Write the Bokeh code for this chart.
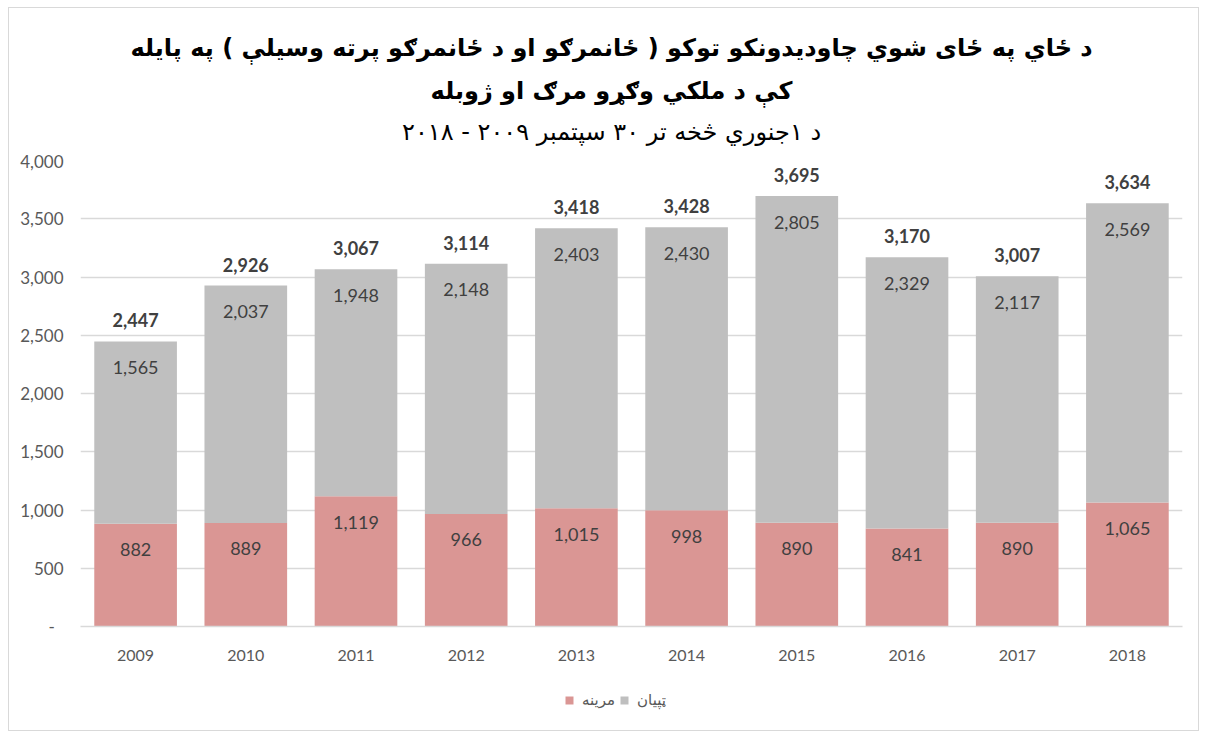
from bokeh.plotting import figure
from bokeh.layouts import column
from bokeh.models import (ColumnDataSource, Label, Legend, LegendItem, FixedTicker,
                          CustomJSTickFormatter, Range1d)
from bokeh.core.properties import value
from bokeh.embed import file_html
from bokeh.resources import INLINE

years = ["2009", "2010", "2011", "2012", "2013", "2014", "2015", "2016", "2017", "2018"]
deaths = [882, 889, 1119, 966, 1015, 998, 890, 841, 890, 1065]
injured = [1565, 2037, 1948, 2148, 2403, 2430, 2805, 2329, 2117, 2569]
y_ticks = [0, 500, 1000, 1500, 2000, 2500, 3000, 3500, 4000]

title_1 = "د ځاي په ځای شوي چاودیدونکو توکو ( ځانمرګو او د ځانمرګو پرته وسیلې ) په پایله"
title_2 = "کې د ملکي وګړو مرګ او ژوبله"
title_3 = "د ۱جنوري څخه تر ۳۰ سپتمبر ۲۰۰۹ - ۲۰۱۸"
legend_deaths = "مرینه"
legend_injured = "ټپیان"

RED = "#DA9694"
GRAY = "#BFBFBF"
NUM_FONT = "Lato"
AR_FONT = "DejaVu Sans"

totals = [d + i for d, i in zip(deaths, injured)]
source = ColumnDataSource(dict(
    year=years,
    deaths=deaths,
    injured=injured,
    total=totals,
    deaths_lbl=[f"{v:,}" for v in deaths],
    injured_lbl=[f"{v:,}" for v in injured],
    total_lbl=[f"{v:,}" for v in totals],
))

W = 1189
HEAD_H = 142

# ---- header strip with the three title lines
head = figure(width=W, height=HEAD_H, x_range=Range1d(0, W), y_range=Range1d(0, HEAD_H),
              x_axis_type=None, y_axis_type=None, output_backend="svg",
              toolbar_location=None, min_border=0)
head.outline_line_color = None
head.grid.visible = False
for txt, ypos, style in [(title_1, 103, "bold"), (title_2, 60, "bold"), (title_3, 19, "normal")]:
    head.add_layout(Label(x=573, y=ypos, text=txt, text_align="center",
                          text_baseline="middle", text_font=AR_FONT,
                          text_font_size="24px", text_font_style=style,
                          text_color="#000000"))

# ---- main chart
p = figure(x_range=years, y_range=(0, 4000), width=W, height=526,
           output_backend="svg", toolbar_location=None,
           min_border_left=71, min_border_right=16, min_border_bottom=50,
           min_border_top=10)
p.outline_line_color = None

renderers = p.vbar_stack(["deaths", "injured"], x="year", width=0.75, source=source,
                         fill_color=[RED, GRAY], line_color=None)

label_common = dict(source=source, text_align="center", text_baseline="middle",
                    text_font=value(NUM_FONT))
p.text(x="year", y="deaths", text="deaths_lbl", y_offset=26, text_font_size="18px",
       text_color="#404040", **label_common)
p.text(x="year", y="total", text="injured_lbl", y_offset=26, text_font_size="18px",
       text_color="#404040", **label_common)
p.text(x="year", y="total", text="total_lbl", y_offset=-21, text_font_size="18px",
       text_font_style="bold", text_color="#404040", **label_common)

p.xgrid.grid_line_color = None
p.ygrid.grid_line_color = "#d9d9d9"
p.ygrid.grid_line_width = 1.3

p.yaxis.ticker = FixedTicker(ticks=y_ticks)
p.yaxis.formatter = CustomJSTickFormatter(
    code="return tick == 0 ? '-  ' : tick.toLocaleString('en-US');")
p.yaxis.axis_line_color = None
p.yaxis.major_tick_line_color = None
p.yaxis.minor_tick_line_color = None
p.yaxis.major_label_text_font = NUM_FONT
p.yaxis.major_label_text_font_size = "17px"
p.yaxis.major_label_text_color = "#595959"
p.yaxis.major_label_standoff = 11

p.xaxis.axis_line_color = "#d9d9d9"
p.xaxis.axis_line_width = 1.3
p.xaxis.major_tick_line_color = None
p.xaxis.minor_tick_line_color = None
p.xaxis.major_label_text_font = NUM_FONT
p.xaxis.major_label_text_font_size = "16px"
p.xaxis.major_label_text_color = "#595959"
p.xaxis.major_label_standoff = 17

# ---- legend strip below the chart (hidden copies of the series supply the keys)
leg = figure(width=W, height=54, x_range=years, y_range=(0, 4000),
             x_axis_type=None, y_axis_type=None, output_backend="svg",
             toolbar_location=None, min_border=0)
leg.outline_line_color = None
leg.grid.visible = False
keys = leg.vbar_stack(["deaths", "injured"], x="year", width=0.75, source=source,
                      fill_color=[RED, GRAY], line_color=None, visible=False)
legend = Legend(items=[LegendItem(label=legend_deaths, renderers=[keys[0]]),
                       LegendItem(label=legend_injured, renderers=[keys[1]])],
                orientation="horizontal", location=(484, 21),
                border_line_color=None, background_fill_alpha=0,
                inactive_fill_alpha=0,
                glyph_width=10, glyph_height=10, label_standoff=8, spacing=4,
                label_text_font=AR_FONT, label_text_font_size="15px",
                label_text_color="#595959", margin=0, padding=4)
leg.add_layout(legend, "center")

layout = column(head, p, leg, spacing=0,
                styles={"border": "1px solid #d9d9d9", "margin-left": "8px",
                        "margin-top": "7px"})

open("out.html", "w").write(file_html(layout, INLINE))
